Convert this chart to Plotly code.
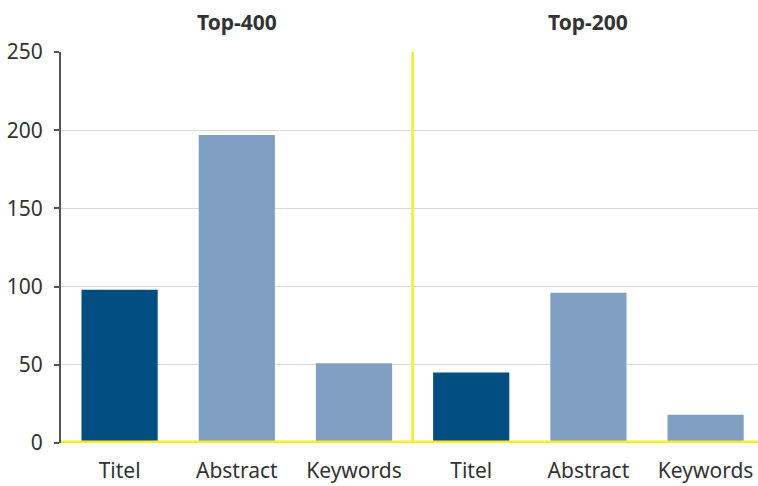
import plotly.graph_objects as go

groups = ["Top-400", "Top-200"]
categories = ["Titel", "Abstract", "Keywords"]
top400 = [98, 197, 51]
top200 = [45, 96, 18]
y_ticks = [0, 50, 100, 150, 200, 250]

DARK = "#024e82"
LIGHT = "#809fc3"
YELLOW = "#f4ec2c"

values = top400 + top200
labels = categories + categories
xpos = list(range(len(values)))
colors = [DARK if c == "Titel" else LIGHT for c in labels]

fig = go.Figure()
fig.add_trace(go.Bar(x=xpos, y=values, marker=dict(color=colors, line=dict(width=0)),
                     width=0.65, showlegend=False, hoverinfo="y"))

fig.update_layout(
    width=758, height=486,
    margin=dict(l=61, r=0, t=52, b=43, autoexpand=False),
    paper_bgcolor="white", plot_bgcolor="white",
    font=dict(family="Noto Sans", size=21, color="#333333"),
    xaxis=dict(range=[-0.5, 5.447], tickmode="array", tickvals=xpos, ticktext=labels,
               showgrid=False, zeroline=False, showline=False, ticks="",
               ticklabelstandoff=13,
               tickfont=dict(size=21, color="#333333")),
    yaxis=dict(range=[0, 250], tickmode="array", tickvals=y_ticks,
               showgrid=True, gridcolor="#d9d9d9", gridwidth=1,
               zeroline=False, showline=True, linecolor="#555555", linewidth=2,
               ticks="outside", ticklen=5, tickcolor="#555555", tickwidth=2,
               ticklabelstandoff=7,
               tickfont=dict(size=21, color="#333333")),
)

# separator and baseline
fig.add_shape(type="line", xref="x", yref="y", x0=2.5, x1=2.5, y0=0, y1=250,
              line=dict(color=YELLOW, width=2.5))
fig.add_shape(type="line", xref="paper", yref="y", x0=0, x1=1, y0=0, y1=0,
              line=dict(color=YELLOW, width=5))

for gi, g in enumerate(groups):
    fig.add_annotation(x=gi * 3 + 1, xref="x", y=1.0, yref="paper", yshift=30,
                       text="<b>" + g + "</b>", showarrow=False,
                       font=dict(size=21, color="#333333"), yanchor="middle")

fig.write_html("out.html", config={"displayModeBar": False},
               post_script="document.body.style.margin='0';document.body.style.overflow='hidden';")
